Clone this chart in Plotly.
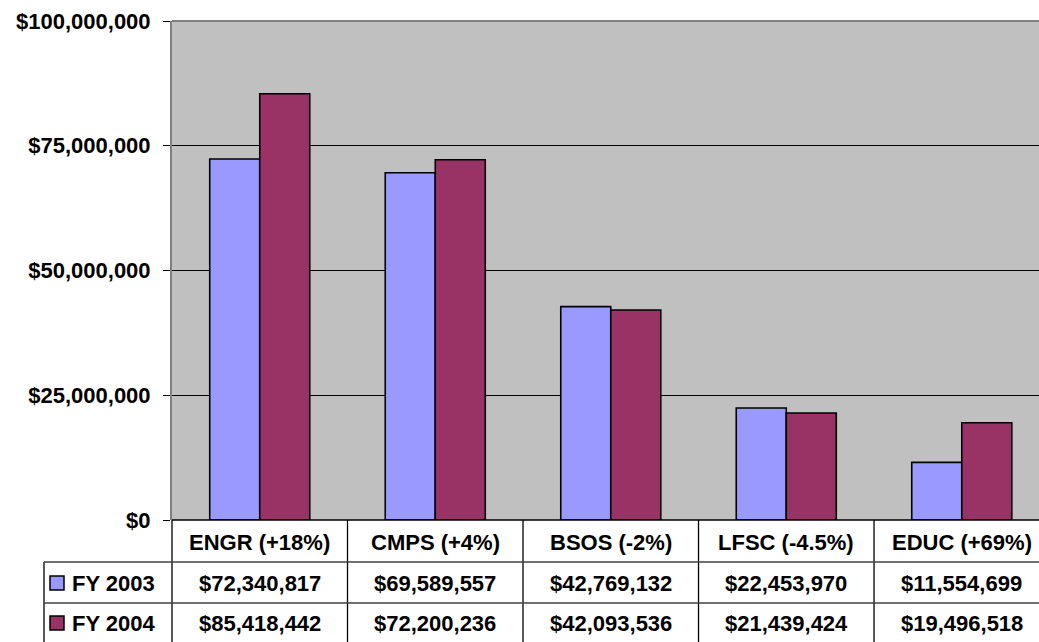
import plotly.graph_objects as go

categories = ["ENGR (+18%)", "CMPS (+4%)", "BSOS (-2%)", "LFSC (-4.5%)", "EDUC (+69%)"]
series_names = ["FY 2003", "FY 2004"]
fy2003 = [72340817, 69589557, 42769132, 22453970, 11554699]
fy2004 = [85418442, 72200236, 42093536, 21439424, 19496518]
series_values = [fy2003, fy2004]
colors = ["#9999FF", "#993366"]
y_tick_vals = [0, 25000000, 50000000, 75000000, 100000000]
y_tick_text = ["$0", "$25,000,000", "$50,000,000", "$75,000,000", "$100,000,000"]

W, H = 1039, 642
L, R, T, B = 172, 0, 21, 122
PW, PH = W - L - R, H - T - B
XR = [-0.5, 4.44]
FONT = "Arial, Liberation Sans, sans-serif"
FS = 22

def px(p):
    return (p - L) / PW

def py(q):
    return (H - B - q) / PH

def xd(v):
    return (v - XR[0]) / (XR[1] - XR[0])

fig = go.Figure()
for name, vals, col in zip(series_names, series_values, colors):
    fig.add_trace(go.Bar(x=categories, y=vals, name=name, marker=dict(color=col, line=dict(color="black", width=1.6))))

shapes = []
# top border
shapes.append(dict(type="line", xref="paper", yref="paper", x0=0, x1=1, y0=1, y1=1, line=dict(color="#808080", width=2)))
# bottom axis line
shapes.append(dict(type="line", xref="paper", yref="paper", x0=0, x1=1, y0=0, y1=0, line=dict(color="black", width=1.5)))
# table vertical lines
for i in range(len(categories) + 1):
    xx = xd(i - 0.5)
    if xx <= 1.001:
        shapes.append(dict(type="line", xref="paper", yref="paper", x0=xx, x1=xx, y0=0, y1=py(H + 2), line=dict(color="black", width=1.3)))
shapes.append(dict(type="line", xref="paper", yref="paper", x0=px(44), x1=px(44), y0=py(562), y1=py(H + 2), line=dict(color="black", width=1.3)))
for yy in [562, 603]:
    shapes.append(dict(type="line", xref="paper", yref="paper", x0=px(44), x1=1, y0=py(yy), y1=py(yy), line=dict(color="#404040", width=1.3)))

annotations = []
row_y = [583, 623]
for i, c in enumerate(categories):
    annotations.append(dict(x=c, xref="x", y=py(542), yref="paper", text=c, showarrow=False,
                            font=dict(family=FONT, size=FS, color="black", weight="bold"), xanchor="center", yanchor="middle"))
for name, vals, col, ry in zip(series_names, series_values, colors, row_y):
    shapes.append(dict(type="rect", xref="paper", yref="paper", x0=px(50), x1=px(64), y0=py(ry - 7), y1=py(ry + 7),
                       fillcolor=col, line=dict(color="black", width=1.5)))
    annotations.append(dict(x=px(70), xref="paper", y=py(ry), yref="paper", text=name, showarrow=False,
                            font=dict(family=FONT, size=FS, color="black", weight="bold"), xanchor="left", yanchor="middle"))
    for c, v in zip(categories, vals):
        annotations.append(dict(x=c, xref="x", y=py(ry), yref="paper", text="${:,}".format(v), showarrow=False,
                                font=dict(family=FONT, size=FS, color="black", weight="bold"), xanchor="center", yanchor="middle"))

fig.update_layout(
    width=W, height=H, autosize=False,
    margin=dict(l=L, r=R, t=T, b=B, pad=0, autoexpand=False),
    paper_bgcolor="white", plot_bgcolor="#C0C0C0",
    barmode="group", bargap=0.43, bargroupgap=0,
    showlegend=False, hovermode=False,
    xaxis=dict(type="category", range=XR, showticklabels=False, showgrid=False, zeroline=False, ticks=""),
    yaxis=dict(range=[0, 100000000], tickvals=y_tick_vals, ticktext=y_tick_text, ticks="outside", ticklen=7,
               tickcolor="black", tickwidth=1, showgrid=True, gridcolor="black", gridwidth=1, zeroline=False,
               showline=True, linecolor="#808080", linewidth=2, ticklabelstandoff=8,
               tickfont=dict(family=FONT, size=FS, color="black", weight="bold")),
    shapes=shapes, annotations=annotations,
)
fig.write_html("out.html", config={"displayModeBar": False},
               post_script="document.body.style.margin='0px';document.body.style.overflow='hidden';")
